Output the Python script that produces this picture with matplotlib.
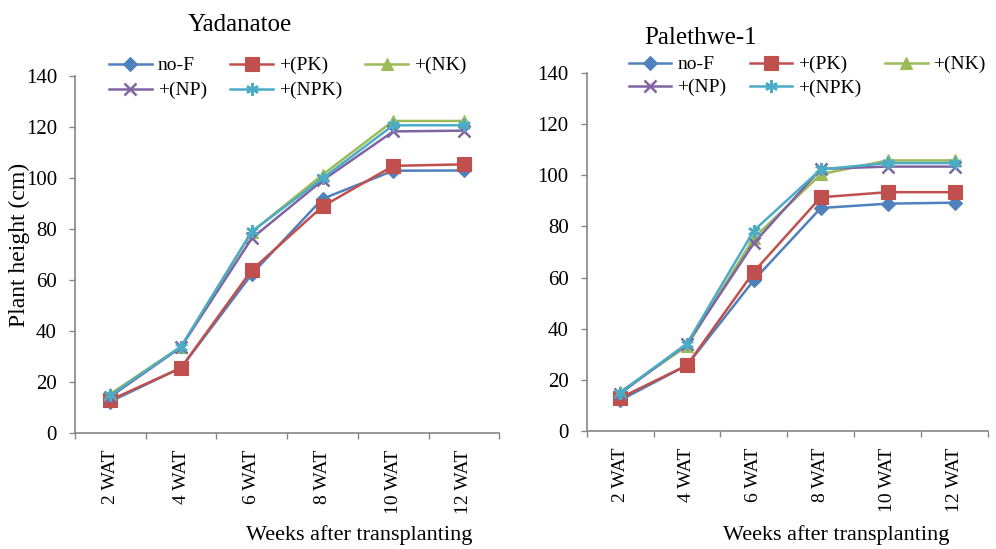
import matplotlib
matplotlib.use('Agg')
import matplotlib.pyplot as plt
import numpy as np

plt.rcParams['font.family'] = ['Liberation Serif', 'DejaVu Serif']

weeks = ['2 WAT', '4 WAT', '6 WAT', '8 WAT', '10 WAT', '12 WAT']
treatments = ['no-F', '+(PK)', '+(NK)', '+(NP)', '+(NPK)']

# Yadanatoe
yad_noF = [12.4, 25.6, 62.3, 91.8, 102.8, 102.9]
yad_PK = [13.0, 25.6, 63.9, 88.8, 104.7, 105.3]
yad_NK = [15.4, 33.9, 78.8, 101.2, 122.3, 122.3]
yad_NP = [14.3, 33.7, 76.3, 99.0, 118.2, 118.5]
yad_NPK = [14.8, 33.9, 79.0, 99.8, 120.6, 120.6]

# Palethwe-1
pal_noF = [12.0, 25.7, 59.0, 87.2, 88.9, 89.3]
pal_PK = [12.9, 25.7, 62.3, 91.4, 93.4, 93.4]
pal_NK = [15.3, 33.2, 75.5, 100.4, 105.8, 105.8]
pal_NP = [14.6, 34.0, 73.5, 102.5, 103.4, 103.4]
pal_NPK = [15.0, 34.2, 78.4, 102.3, 104.8, 104.8]

colors = ['#4F81BD', '#C0504D', '#9BBB59', '#8064A2', '#4BACC6']
markers = ['D', 's', '^', 'x', (6, 2, 0)]
msizes = [7, 10, 8, 8, 9]


def draw(ax, series, legend_anchor, rowgap):
    x = np.arange(len(weeks))
    lines = []
    for vals, name, c, m, ms in zip(series, treatments, colors, markers, msizes):
        ln, = ax.plot(x, vals, color=c, marker=m, markersize=ms, linewidth=1.8,
                      markeredgewidth=1.8 if m in ('x', (6, 2, 0)) else 0.8,
                      markeredgecolor=c, label=name)
        lines.append(ln)
    ax.set_ylim(0, 140)
    ax.set_yticks(np.arange(0, 141, 20))
    ax.set_xlim(-0.5, len(weeks) - 0.5)
    ax.set_xticks(x)
    ax.set_xticklabels(weeks, rotation=90, fontsize=14)
    ax.set_xticks(np.arange(-0.5, len(weeks)), minor=True)
    ax.tick_params(axis='x', which='major', length=0, pad=12)
    ax.tick_params(axis='x', which='minor', length=4, color='#868686', width=1)
    ax.tick_params(axis='y', length=4, color='#868686', width=1, pad=9, labelsize=15)
    for s in ['top', 'right']:
        ax.spines[s].set_visible(False)
    for s in ['left', 'bottom']:
        ax.spines[s].set_color('#868686')
        ax.spines[s].set_linewidth(1.2)
    # row-wise order: matplotlib fills legend columns first
    order = [0, 3, 1, 4, 2]
    ax.legend([lines[i] for i in order], [treatments[i] for i in order],
              loc='upper left', bbox_to_anchor=legend_anchor, ncol=3, frameon=False,
              fontsize=14, handlelength=2.2, handletextpad=0.3, columnspacing=1.2,
              labelspacing=rowgap, borderaxespad=0)


fig = plt.figure(figsize=(9.96, 5.49), dpi=100)
ax1 = fig.add_axes([0.0753, 0.211, 0.426, 0.651])
ax2 = fig.add_axes([0.589, 0.215, 0.403, 0.652])

draw(ax1, [yad_noF, yad_PK, yad_NK, yad_NP, yad_NPK], (0.062, 1.075), 0.38)
draw(ax2, [pal_noF, pal_PK, pal_NK, pal_NP, pal_NPK], (0.085, 1.07), 0.28)

fig.text(0.019, 0.553, 'Plant height (cm)', fontsize=17, rotation=90,
         ha='center', va='center')
fig.text(0.241, 0.955, 'Yadanatoe', fontsize=18, ha='center', va='center')
fig.text(0.703, 0.93, 'Palethwe-1', fontsize=18, ha='center', va='center')
fig.text(0.361, 0.025, 'Weeks after transplanting', fontsize=16, ha='center', va='center')
fig.text(0.840, 0.025, 'Weeks after transplanting', fontsize=16, ha='center', va='center')

fig.savefig('out.png', dpi=100)
